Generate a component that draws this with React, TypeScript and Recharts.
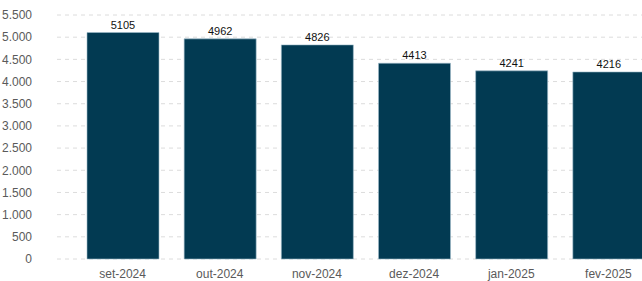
import * as React from "react";
import { BarChart, Bar, XAxis, YAxis, CartesianGrid, LabelList } from "recharts";

const months = ["set-2024", "out-2024", "nov-2024", "dez-2024", "jan-2025", "fev-2025"];
const totals = [5105, 4962, 4826, 4413, 4241, 4216];
const yTicks = [0, 500, 1000, 1500, 2000, 2500, 3000, 3500, 4000, 4500, 5000, 5500];

const data = months.map((m, i) => ({ month: m, total: totals[i] }));

const fmt = (v: number) => v.toLocaleString("de-DE");

export default function App() {
  return (
    <div style={{ position: "absolute", left: 0, top: 0, width: 642, height: 281, overflow: "hidden", fontFamily: "'Liberation Sans', Arial, sans-serif" }}>
      <BarChart width={660} height={281} data={data} margin={{ top: 15, right: 3, left: 0, bottom: 0 }} barSize={72}>
        <CartesianGrid vertical={false} stroke="#dcdcdc" strokeDasharray="4 4" />
        <XAxis
          dataKey="month"
          height={22}
          axisLine={false}
          tickLine={false}
          tickMargin={4}
          padding={{ left: 17, right: 0 }}
          tick={{ fontSize: 12, fill: "#5a5a5a" }}
        />
        <YAxis
          width={57}
          domain={[0, 5500]}
          ticks={yTicks}
          interval={0}
          axisLine={false}
          tickLine={false}
          tickMargin={19}
          tickFormatter={fmt}
          tick={{ fontSize: 12, fill: "#5a5a5a" }}
        />
        <Bar dataKey="total" fill="#023a52" stroke="#9fbccb" strokeWidth={0.6} isAnimationActive={false}>
          <LabelList dataKey="total" position="top" offset={4} style={{ fontSize: 11, fill: "#111" }} />
        </Bar>
      </BarChart>
    </div>
  );
}
